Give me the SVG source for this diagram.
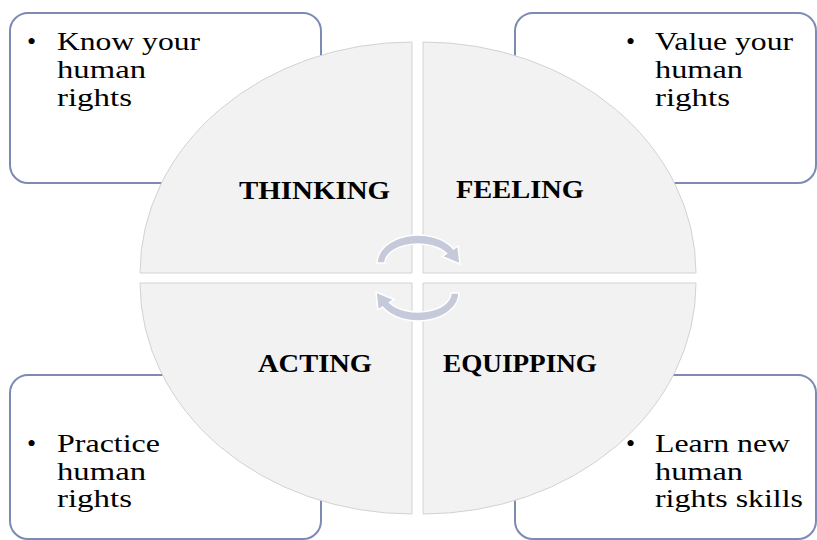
<svg xmlns="http://www.w3.org/2000/svg" width="817" height="540" viewBox="0 0 817 540">
<defs>
<style>
.box{fill:#ffffff;stroke:#7C8AB4;stroke-width:2}
.quad{fill:#F2F2F2;stroke:#D2D2D2;stroke-width:1}
.arrow{fill:#C5C9DA;stroke:#ffffff;stroke-width:1.5}
.bt{font-family:"Liberation Serif","Times New Roman",serif;font-size:26px;fill:#000}
.lbl{font-family:"Liberation Serif","Times New Roman",serif;font-size:26px;font-weight:bold;fill:#000}
</style>
</defs>
<rect width="817" height="540" fill="#ffffff"/>
<g id="box-know">
<rect class="box" x="10" y="13" width="311" height="170" rx="18"/>
<text class="bt" x="27" y="50">•</text>
<text class="bt" x="57" y="50" textLength="143" lengthAdjust="spacingAndGlyphs">Know your</text>
<text class="bt" x="57" y="78" textLength="89" lengthAdjust="spacingAndGlyphs">human</text>
<text class="bt" x="57" y="106" textLength="75" lengthAdjust="spacingAndGlyphs">rights</text>
</g>
<g id="box-value">
<rect class="box" x="515" y="13" width="301" height="170" rx="18"/>
<text class="bt" x="626" y="50">•</text>
<text class="bt" x="655" y="50" textLength="138" lengthAdjust="spacingAndGlyphs">Value your</text>
<text class="bt" x="655" y="78" textLength="88" lengthAdjust="spacingAndGlyphs">human</text>
<text class="bt" x="655" y="106" textLength="75" lengthAdjust="spacingAndGlyphs">rights</text>
</g>
<g id="box-practice">
<rect class="box" x="10" y="375" width="311" height="164" rx="18"/>
<text class="bt" x="27" y="452">•</text>
<text class="bt" x="57" y="452" textLength="103" lengthAdjust="spacingAndGlyphs">Practice</text>
<text class="bt" x="57" y="480" textLength="89" lengthAdjust="spacingAndGlyphs">human</text>
<text class="bt" x="57" y="507" textLength="75" lengthAdjust="spacingAndGlyphs">rights</text>
</g>
<g id="box-learn">
<rect class="box" x="515" y="375" width="301" height="164" rx="18"/>
<text class="bt" x="626" y="452">•</text>
<text class="bt" x="655" y="452" textLength="135" lengthAdjust="spacingAndGlyphs">Learn new</text>
<text class="bt" x="655" y="480" textLength="88" lengthAdjust="spacingAndGlyphs">human</text>
<text class="bt" x="655" y="507" textLength="148" lengthAdjust="spacingAndGlyphs">rights skills</text>
</g>
<g id="quad-thinking">
<path class="quad" d="M412,273 L140,273 A272 231 0 0 1 412,42 Z"/>
<text class="lbl" x="239" y="199" textLength="151" lengthAdjust="spacingAndGlyphs">THINKING</text>
</g>
<g id="quad-feeling">
<path class="quad" d="M423,273 L423,42 A273 231 0 0 1 696,273 Z"/>
<text class="lbl" x="456" y="198" textLength="128" lengthAdjust="spacingAndGlyphs">FEELING</text>
</g>
<g id="quad-acting">
<path class="quad" d="M412,283 L412,514 A272 231 0 0 1 140,283 Z"/>
<text class="lbl" x="258" y="372" textLength="114" lengthAdjust="spacingAndGlyphs">ACTING</text>
</g>
<g id="quad-equipping">
<path class="quad" d="M423,283 L696,283 A273 231 0 0 1 423,514 Z"/>
<text class="lbl" x="443" y="372" textLength="154" lengthAdjust="spacingAndGlyphs">EQUIPPING</text>
</g>
<g id="connectors">
<path class="arrow" d="M377,263 A41 28 0 0 1 453.5,249 L458,246 L460,264 L442,256.5 L446.6,253.5 A33 19 0 0 0 385,263 Z"/>
<path class="arrow" d="M459,293 A41 28 0 0 1 382.5,307 L378,310 L376,292 L394,299.5 L389.4,302.5 A33 19 0 0 0 451,293 Z"/>
</g>
</svg>
